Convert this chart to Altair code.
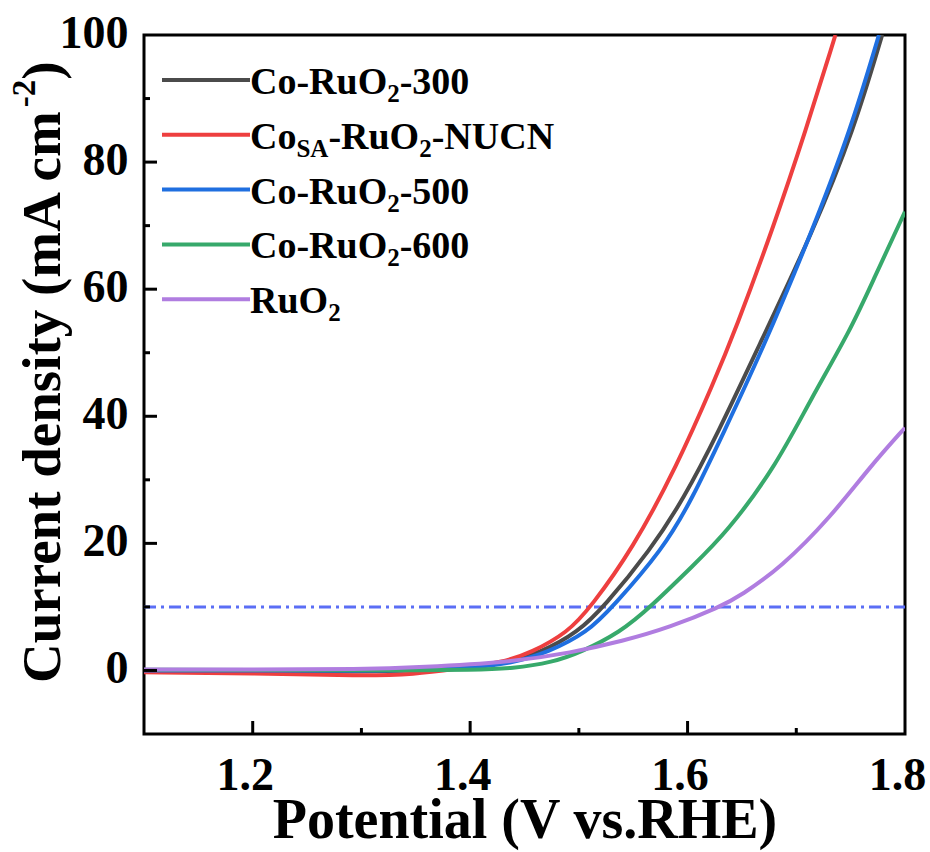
import altair as alt
import pandas as pd

# ---------------- data ----------------
series_names = ["Co-RuO2-300", "CoSA-RuO2-NUCN", "Co-RuO2-500", "Co-RuO2-600", "RuO2"]
series_colors = ["#4b4b4b", "#ee3f3f", "#1f6fe0", "#37a96b", "#b07de0"]

x_300 = [1.10, 1.20, 1.30, 1.35, 1.40, 1.43, 1.465, 1.499, 1.523, 1.566, 1.596, 1.628, 1.664, 1.716, 1.753, 1.779]
y_300 = [-0.1, -0.1, -0.2, 0.0, 0.4, 1.1, 2.8, 6.0, 10.0, 19.0, 26.9, 37.4, 50.5, 69.3, 85.1, 100.0]

x_nucn = [1.10, 1.20, 1.30, 1.35, 1.385, 1.431, 1.456, 1.490, 1.511, 1.549, 1.590, 1.624, 1.644, 1.678, 1.709, 1.736]
y_nucn = [-0.3, -0.4, -0.9, -0.6, 0.2, 1.3, 2.8, 6.0, 10.0, 19.0, 32.1, 45.3, 53.6, 69.3, 85.1, 100.0]

x_500 = [1.10, 1.20, 1.30, 1.35, 1.40, 1.44, 1.471, 1.508, 1.531, 1.577, 1.604, 1.633, 1.669, 1.715, 1.750, 1.776]
y_500 = [0.0, 0.0, -0.1, 0.1, 0.4, 1.2, 2.8, 6.0, 10.0, 19.0, 26.9, 37.4, 50.5, 69.3, 85.1, 100.0]

x_600 = [1.10, 1.20, 1.30, 1.35, 1.40, 1.44, 1.476, 1.501, 1.538, 1.566, 1.605, 1.636, 1.681, 1.713, 1.750, 1.771, 1.800]
y_600 = [0.1, 0.1, 0.0, 0.0, 0.1, 0.3, 1.3, 2.8, 6.0, 10.0, 16.5, 21.7, 32.1, 42.6, 53.6, 61.5, 72.2]

x_ruo2 = [1.10, 1.20, 1.30, 1.354, 1.437, 1.493, 1.540, 1.584, 1.630, 1.649, 1.686, 1.732, 1.768, 1.800]
y_ruo2 = [0.15, 0.15, 0.2, 0.5, 1.3, 2.8, 4.6, 6.8, 10.0, 11.8, 16.2, 24.2, 32.1, 38.2]

series_x = [x_300, x_nucn, x_500, x_600, x_ruo2]
series_y = [y_300, y_nucn, y_500, y_600, y_ruo2]

ref_level = [10]
x_range = [1.1, 1.8]
y_range = [-10, 100]
x_labels = [1.2, 1.4, 1.6, 1.8]
y_labels = [0, 20, 40, 60, 80, 100]
x_major_ticks = [1.2, 1.4, 1.6]
x_minor_ticks = [1.3, 1.5, 1.7]
y_major_ticks = [0, 20, 40, 60, 80]
y_minor_ticks = [10, 30, 50, 70, 90]

# legend label pieces: (text, is_subscript)
legend_parts = [
    [("Co-RuO", False), ("2", True), ("-300", False)],
    [("Co", False), ("SA", True), ("-RuO", False), ("2", True), ("-NUCN", False)],
    [("Co-RuO", False), ("2", True), ("-500", False)],
    [("Co-RuO", False), ("2", True), ("-600", False)],
    [("RuO", False), ("2", True)],
]
ytitle_parts = [("Current density (mA cm", False), ("-2", True), (")", False)]

# ---------------- layout / style ----------------
W, H = 761, 699
FONT = "Liberation Serif"
BLACK = "black"

# Times/Liberation Serif Bold advance widths (per 1000 em)
ADV = {'C': 722, 'o': 500, '-': 333, 'R': 722, 'u': 556, 'O': 778, 'S': 556, 'A': 722,
       'N': 722, 'U': 722, 'r': 444, 'e': 444, 'n': 556, 't': 333, ' ': 250, 'd': 556,
       's': 389, 'i': 278, 'y': 500, '(': 333, ')': 333, 'm': 833, 'c': 444}


def text_width(s, size):
    return sum(ADV.get(ch, 500) for ch in s) * size / 1000.0


xsc = alt.Scale(domain=x_range, nice=False, zero=False)
ysc = alt.Scale(domain=y_range, nice=False, zero=False)

x_axis = alt.Axis(values=x_labels, format=".1f", title="Potential (V vs.RHE)", grid=False,
                  domain=False, ticks=False, tickSize=0, labelFont=FONT, labelFontSize=46,
                  labelFontWeight="bold", labelColor=BLACK, labelPadding=55,
                  labelBaseline="alphabetic", labelFlush=False, labelOffset=-8,
                  titleFont=FONT, titleFontSize=56, titleFontWeight="bold", titleColor=BLACK,
                  titleBaseline="alphabetic", titleY=103)
y_axis = alt.Axis(values=y_labels, format="d", title=None, grid=False, domain=False,
                  ticks=False, tickSize=0, labelFont=FONT, labelFontSize=46,
                  labelFontWeight="bold", labelColor=BLACK, labelPadding=16,
                  labelFlush=False, labelOffset=-2)


def X(field):
    return alt.X(field, type="quantitative", scale=xsc, axis=x_axis)


def Y(field):
    return alt.Y(field, type="quantitative", scale=ysc, axis=y_axis)


one = pd.DataFrame({"k": [0]})
layers = []

# reference dash-dot line at 10 mA cm-2
ref_df = pd.DataFrame({"x": [x_range[0]], "x2": [x_range[1]], "y": ref_level})
layers.append(
    alt.Chart(ref_df).mark_rule(color="#5b6ef5", strokeWidth=3, strokeDash=[12, 5, 3, 5]).encode(
        x=X("x"), x2="x2:Q", y=Y("y")
    )
)

# curves
for name, col, xs, ys in zip(series_names, series_colors, series_x, series_y):
    df = pd.DataFrame({"x": xs, "y": ys, "s": name})
    layers.append(
        alt.Chart(df).mark_line(color=col, strokeWidth=4, interpolate="basis", clip=True).encode(
            x=X("x"), y=Y("y")
        )
    )

# inward ticks
for vals, length in ((x_major_ticks, 13), (x_minor_ticks, 6)):
    layers.append(
        alt.Chart(pd.DataFrame({"x": vals})).mark_rule(color=BLACK, strokeWidth=3).encode(
            x=X("x"), y=alt.value(H), y2=alt.value(H - length)
        )
    )
for vals, length in ((y_major_ticks, 13), (y_minor_ticks, 6)):
    layers.append(
        alt.Chart(pd.DataFrame({"y": vals})).mark_rule(color=BLACK, strokeWidth=3).encode(
            y=Y("y"), x=alt.value(0), x2=alt.value(length)
        )
    )

# legend (manual, for real subscripts)
LEG_X0, LEG_X1, LEG_Y0, LEG_DY = 18, 106, 45, 54.8
LEG_FS, LEG_SUB_FS = 38, 25
for i, (col, parts) in enumerate(zip(series_colors, legend_parts)):
    yy = LEG_Y0 + LEG_DY * i
    layers.append(
        alt.Chart(one).mark_rule(color=col, strokeWidth=4).encode(
            x=alt.value(LEG_X0), x2=alt.value(LEG_X1), y=alt.value(yy)
        )
    )
    xx = LEG_X1
    for txt, sub in parts:
        fs = LEG_SUB_FS if sub else LEG_FS
        layers.append(
            alt.Chart(one).mark_text(text=txt, font=FONT, fontSize=fs, fontWeight="bold",
                                     align="left", baseline="alphabetic", color=BLACK).encode(
                x=alt.value(xx), y=alt.value(yy + (22 if sub else 14))
            )
        )
        xx += text_width(txt, fs)

# y-axis title (manual, for the superscript)
TX, TY = -84, 648
T_FS, T_SUP_FS = 55, 33
yy = TY
for txt, sup in ytitle_parts:
    fs = T_SUP_FS if sup else T_FS
    layers.append(
        alt.Chart(one).mark_text(text=txt, font=FONT, fontSize=fs, fontWeight="bold", angle=270,
                                 align="left", baseline="alphabetic", color=BLACK).encode(
            x=alt.value(TX - (25 if sup else 0)), y=alt.value(yy)
        )
    )
    yy -= text_width(txt, fs)

chart = alt.layer(*layers).properties(
    width=W,
    height=H,
    background="white",
    autosize=alt.AutoSizeParams(type="none"),
    padding={"left": 144, "top": 35, "right": 25, "bottom": 118},
).configure_view(stroke=BLACK, strokeWidth=3)

chart.save("out.html", embed_options={"renderer": "svg", "actions": False})
